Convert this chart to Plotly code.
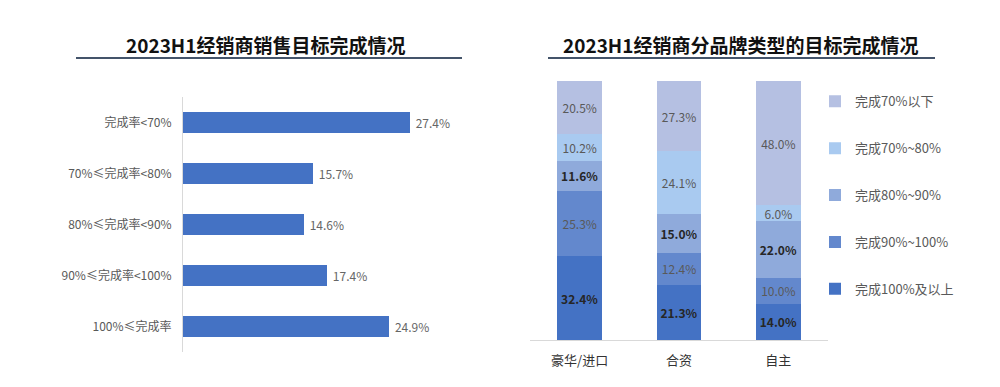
import plotly.graph_objects as go

# Left chart data
rate_categories = ["完成率<70%", "70%≤完成率<80%", "80%≤完成率<90%", "90%≤完成率<100%", "100%≤完成率"]
rate_values = [27.4, 15.7, 14.6, 17.4, 24.9]

# Right chart data
brand_types = ["豪华/进口", "合资", "自主"]
series_names = ["完成100%及以上", "完成90%~100%", "完成80%~90%", "完成70%~80%", "完成70%以下"]
s_100_plus = [32.4, 21.3, 14.0]
s_90_100 = [25.3, 12.4, 10.0]
s_80_90 = [11.6, 15.0, 22.0]
s_70_80 = [10.2, 24.1, 6.0]
s_below_70 = [20.5, 27.3, 48.0]

series_values = [s_100_plus, s_90_100, s_80_90, s_70_80, s_below_70]
series_colors = ["#4472C4", "#6388CD", "#8FAADB", "#A9CAF0", "#B5C0E2"]
series_bold = [True, False, True, False, False]

FONT = "Noto Sans CJK SC"

fig = go.Figure()

fig.add_trace(go.Bar(
    x=rate_values, y=rate_categories, orientation="h",
    marker=dict(color="#4472C4", line=dict(width=0)),
    width=0.4,
    texttemplate=" %{x:.1f}%", textposition="outside",
    textfont=dict(size=12, color="#666666", family=FONT),
    cliponaxis=False, showlegend=False, hoverinfo="skip",
    xaxis="x", yaxis="y",
))

n = len(series_names)
for i, (name, vals, col, bold) in enumerate(zip(series_names, series_values, series_colors, series_bold)):
    tmpl = "<b>%{y:.1f}%</b>" if bold else "%{y:.1f}%"
    fig.add_trace(go.Bar(
        x=brand_types, y=vals, name=name,
        marker=dict(color=col, line=dict(width=0)),
        width=0.45,
        texttemplate=tmpl, textposition="inside", insidetextanchor="middle",
        textangle=0,
        textfont=dict(size=12, color="#262626" if bold else "#595959", family=FONT),
        legendgroup=name, legendrank=n - i,
        xaxis="x2", yaxis="y2",
    ))

fig.update_layout(
    width=1000, height=387,
    margin=dict(l=0, r=0, t=0, b=0),
    paper_bgcolor="white", plot_bgcolor="white",
    barmode="stack",
    font=dict(family=FONT),
    uniformtext=dict(minsize=12, mode="show"),
    xaxis=dict(domain=[0.183, 0.463], range=[0, 33.8], visible=False, fixedrange=True),
    yaxis=dict(domain=[0.0904, 0.749], categoryorder="array", categoryarray=rate_categories,
               autorange="reversed", showline=True, linecolor="#D9D9D9", linewidth=1,
               ticks="", showgrid=False, ticklabelstandoff=8,
               tickfont=dict(size=12, color="#595959", family=FONT), anchor="x"),
    xaxis2=dict(domain=[0.53, 0.828], showline=True, linecolor="#D9D9D9", linewidth=1,
                ticks="", showgrid=False, anchor="y2", ticklabelstandoff=8,
                tickfont=dict(size=13, color="#333333", family=FONT)),
    yaxis2=dict(domain=[0.1214, 0.7907], range=[0, 100], visible=False, anchor="x2"),
    legend=dict(x=0.815, y=0.777, xanchor="left", yanchor="top",
                traceorder="grouped", tracegroupgap=27,
                font=dict(size=13, color="#595959", family=FONT),
                itemwidth=30, bgcolor="rgba(0,0,0,0)"),
    annotations=[
        dict(text="<b>2023H1经销商销售目标完成情况</b>", x=0.265, y=1 - 45 / 387,
             xref="paper", yref="paper", showarrow=False, xanchor="center", yanchor="middle",
             font=dict(size=19, color="#111111", family=FONT)),
        dict(text="<b>2023H1经销商分品牌类型的目标完成情况</b>", x=0.740, y=1 - 45 / 387,
             xref="paper", yref="paper", showarrow=False, xanchor="center", yanchor="middle",
             font=dict(size=19, color="#111111", family=FONT)),
    ],
    shapes=[
        dict(type="line", xref="paper", yref="paper", x0=0.076, x1=0.462,
             y0=1 - 58 / 387, y1=1 - 58 / 387, line=dict(color="#44546A", width=2)),
        dict(type="line", xref="paper", yref="paper", x0=0.548, x1=0.935,
             y0=1 - 58 / 387, y1=1 - 58 / 387, line=dict(color="#44546A", width=2)),
    ],
)

fig.write_html(
    "out.html",
    config={"displayModeBar": False},
    post_script="document.body.style.margin='0';document.body.style.overflow='hidden';",
)
